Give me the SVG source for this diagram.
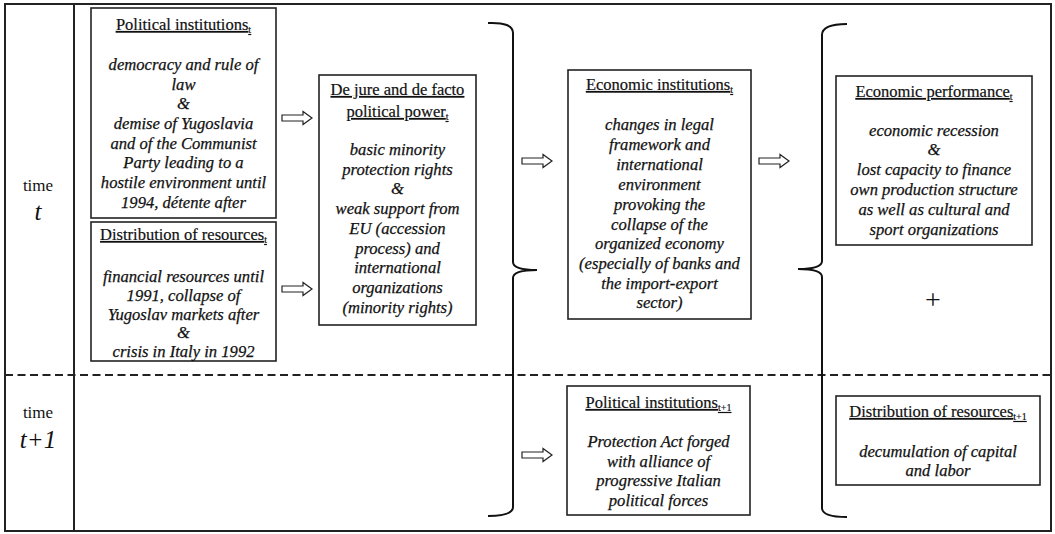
<svg xmlns="http://www.w3.org/2000/svg" width="1055" height="534" viewBox="0 0 1055 534">
<defs>
<style>
.frame{fill:none;stroke:#222;stroke-width:2}
.box{fill:#fff;stroke:#222;stroke-width:1.6}
.ttl{font-family:"Liberation Serif",serif;font-size:16.5px;text-decoration:underline;text-anchor:middle;fill:#111;stroke:#111;stroke-width:0.2}
.it{font-family:"Liberation Serif",serif;font-size:16.6px;font-style:italic;text-anchor:middle;fill:#111;stroke:#111;stroke-width:0.25}
.lbl{font-family:"Liberation Serif",serif;font-size:17px;text-anchor:middle;fill:#111}
.big{font-family:"Liberation Serif",serif;font-size:25px;font-style:italic;text-anchor:middle;fill:#111}
.sub{font-size:10px}
.brace{fill:none;stroke:#111;stroke-width:2}
.arr{fill:#fff;stroke:#222;stroke-width:1.2}
</style>
<path id="harrow" class="arr" d="M0,-3 H21 V-6.5 L30,0 L21,6.5 V3 H0 Z"/>
</defs>
<rect width="1055" height="534" fill="#fff"/>
<g id="frame">
<rect class="frame" x="5" y="4" width="1046" height="527"/>
<line class="frame" x1="74" y1="4" x2="74" y2="531"/>
<line x1="5" y1="375" x2="1051" y2="375" stroke="#222" stroke-width="1.8" stroke-dasharray="8,4.5"/>
</g>
<g id="time-t">
<text class="lbl" x="38" y="191">time</text>
<text class="big" x="38" y="220">t</text>
</g>
<g id="time-t1">
<text class="lbl" x="38" y="418">time</text>
<text class="big" x="38" y="448">t+1</text>
</g>
<g id="pol-inst-t">
<rect class="box" x="91" y="8" width="185" height="210"/>
<text class="ttl" x="183.5" y="30">Political institutions<tspan class="sub" dy="3">t</tspan></text>
<text class="it" x="183.5" y="70">democracy and rule of</text>
<text class="it" x="183.5" y="90">law</text>
<text class="it" x="183.5" y="109">&amp;</text>
<text class="it" x="183.5" y="129">demise of Yugoslavia</text>
<text class="it" x="183.5" y="149">and of the Communist</text>
<text class="it" x="183.5" y="168">Party leading to a</text>
<text class="it" x="183.5" y="188">hostile environment until</text>
<text class="it" x="183.5" y="208">1994, détente after</text>
</g>
<g id="dist-res-t">
<rect class="box" x="91" y="222" width="185" height="139"/>
<text class="ttl" x="183.5" y="240">Distribution of resources<tspan class="sub" dy="3">t</tspan></text>
<text class="it" x="183.5" y="282">financial resources until</text>
<text class="it" x="183.5" y="301">1991, collapse of</text>
<text class="it" x="183.5" y="320">Yugoslav markets after</text>
<text class="it" x="183.5" y="338">&amp;</text>
<text class="it" x="183.5" y="357">crisis in Italy in 1992</text>
</g>
<g id="pol-power-t">
<rect class="box" x="319" y="75" width="157" height="250"/>
<text class="ttl" x="397.5" y="95">De jure and de facto</text>
<text class="ttl" x="397.5" y="117">political power<tspan class="sub" dy="3">t</tspan></text>
<text class="it" x="397.5" y="155">basic minority</text>
<text class="it" x="397.5" y="175">protection rights</text>
<text class="it" x="397.5" y="194">&amp;</text>
<text class="it" x="397.5" y="214">weak support from</text>
<text class="it" x="397.5" y="234">EU (accession</text>
<text class="it" x="397.5" y="254">process) and</text>
<text class="it" x="397.5" y="273">international</text>
<text class="it" x="397.5" y="293">organizations</text>
<text class="it" x="397.5" y="313">(minority rights)</text>
</g>
<g id="econ-inst-t">
<rect class="box" x="568" y="70" width="183" height="249"/>
<text class="ttl" x="659.5" y="90">Economic institutions<tspan class="sub" dy="3">t</tspan></text>
<text class="it" x="659.5" y="130">changes in legal</text>
<text class="it" x="659.5" y="150">framework and</text>
<text class="it" x="659.5" y="170">international</text>
<text class="it" x="659.5" y="190">environment</text>
<text class="it" x="659.5" y="210">provoking the</text>
<text class="it" x="659.5" y="230">collapse of the</text>
<text class="it" x="659.5" y="249">organized economy</text>
<text class="it" x="659.5" y="269">(especially of banks and</text>
<text class="it" x="659.5" y="289">the import-export</text>
<text class="it" x="659.5" y="308">sector)</text>
</g>
<g id="econ-perf-t">
<rect class="box" x="836" y="76" width="196" height="169"/>
<text class="ttl" x="934" y="97">Economic performance<tspan class="sub" dy="3">t</tspan></text>
<text class="it" x="934" y="136">economic recession</text>
<text class="it" x="934" y="155">&amp;</text>
<text class="it" x="934" y="175">lost capacity to finance</text>
<text class="it" x="934" y="195">own production structure</text>
<text class="it" x="934" y="215">as well as cultural and</text>
<text class="it" x="934" y="235">sport organizations</text>
</g>
<g id="plus">
<text x="933" y="309" font-family="Liberation Serif,serif" font-size="28" text-anchor="middle" fill="#111">+</text>
</g>
<g id="pol-inst-t1">
<rect class="box" x="567" y="386" width="183" height="129"/>
<text class="ttl" x="658.5" y="408">Political institutions<tspan class="sub" dy="3">t+1</tspan></text>
<text class="it" x="658.5" y="447">Protection Act forged</text>
<text class="it" x="658.5" y="467">with alliance of</text>
<text class="it" x="658.5" y="486">progressive Italian</text>
<text class="it" x="658.5" y="506">political forces</text>
</g>
<g id="dist-res-t1">
<rect class="box" x="836" y="396" width="204" height="89"/>
<text class="ttl" x="938" y="417">Distribution of resources<tspan class="sub" dy="3">t+1</tspan></text>
<text class="it" x="938" y="457">decumulation of capital</text>
<text class="it" x="938" y="476">and labor</text>
</g>
<g id="connectors">
<use href="#harrow" x="282" y="118"/>
<use href="#harrow" x="282" y="289"/>
<use href="#harrow" x="522" y="161"/>
<use href="#harrow" x="759" y="161"/>
<use href="#harrow" x="522" y="455"/>
<path class="brace" d="M488,23 Q513,22 513,33 L513,262 Q513,270 537,270 Q513,270 513,278 L513,507 Q513,516 488,516"/>
<path class="brace" d="M847,24 Q822,24 822,35 L822,261 Q822,269 798,269 Q822,269 822,277 L822,508 Q822,517 847,517"/>
</g>
</svg>
